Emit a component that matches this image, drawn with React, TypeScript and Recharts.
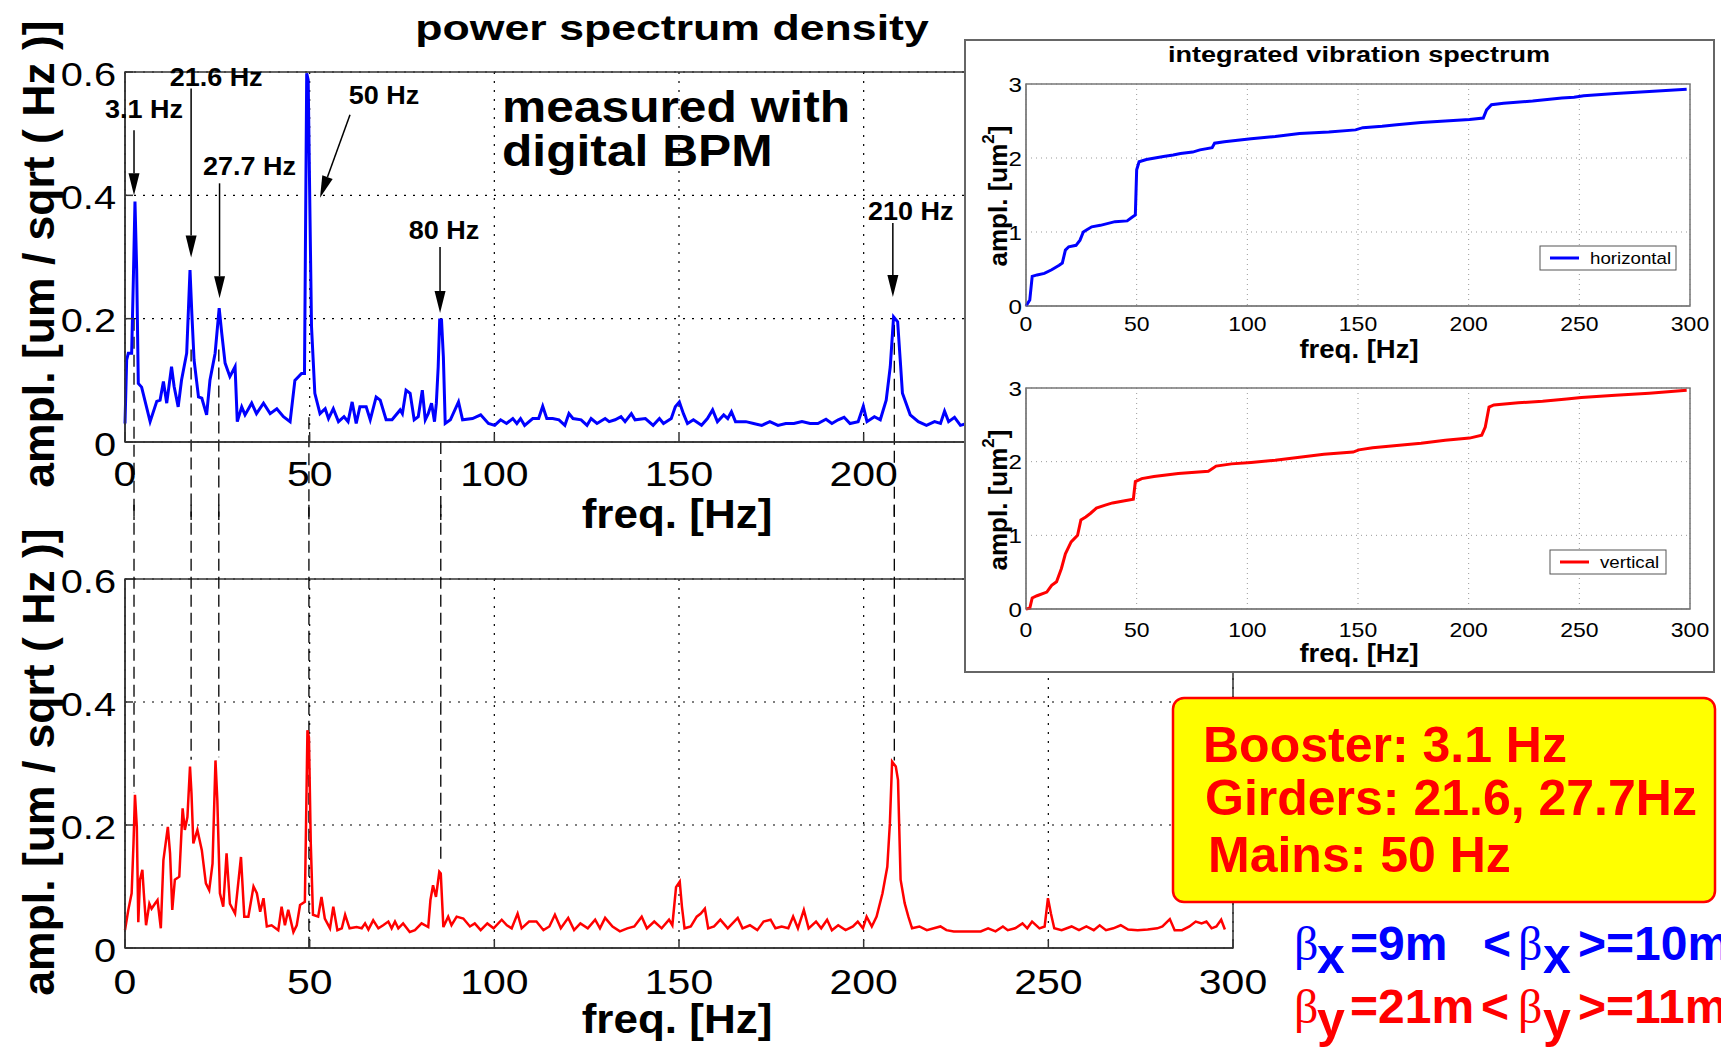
import {
  LineChart,
  Line,
  XAxis,
  YAxis,
  CartesianGrid,
  ReferenceLine,
  ReferenceDot,
  ReferenceArea,
} from "recharts";

const FONT = "'Liberation Sans', Arial, Helvetica, sans-serif";
const SERIF = "'Liberation Serif', 'DejaVu Serif', serif";

// top panel: horizontal PSD [um / sqrt(Hz)]
const hFreq = [
  0, 0.45, 0.9, 1.8, 2.26, 2.7, 3.16, 3.6, 4.5, 6.8,
  8.6, 9.5, 10.4, 11.3, 12.6, 13.3, 14.4, 15.3, 16.7, 17.6,
  18.1, 18.7, 19.9, 20.8, 22.1, 23.0, 24.4, 25.5, 26.2, 27.1,
  28.4, 29.8, 30.4, 31.6, 32.5, 34.3, 35.6, 37.5, 39.3, 41.1,
  42.9, 44.7, 46.0, 47.8, 48.6, 49.2, 49.6, 50.1, 50.5, 51.4,
  52.8, 54.2, 55.1, 56.4, 57.8, 59.3, 60.4, 61.5, 62.6, 63.6,
  65.3, 66.4, 68.0, 69.1, 70.7, 72.3, 74.5, 75.1, 76.1, 77.2,
  78.3, 79.4, 80.5, 81.3, 82.1, 83.0, 83.8, 84.3, 84.8, 85.2,
  85.7, 86.2, 86.7, 88.1, 90.3, 91.4, 94.1, 96.3, 98.4, 100.1,
  101.7, 103.3, 105.0, 106.1, 107.1, 108.2, 110.4, 112.0, 113.1, 114.2,
  115.8, 117.5, 119.1, 120.2, 121.3, 123.5, 125.1, 126.2, 127.8, 130.0,
  131.1, 132.7, 134.3, 135.4, 137.1, 138.1, 140.9, 143.0, 144.7, 145.8,
  147.9, 149.0, 150.1, 151.2, 152.3, 153.9, 156.1, 157.7, 159.1, 160.4,
  162.1, 163.2, 164.2, 165.3, 168.1, 170.2, 172.4, 174.6, 176.8, 178.9,
  181.1, 183.3, 185.5, 187.6, 189.8, 191.4, 193.1, 194.7, 196.3, 198.5,
  199.9, 200.9, 202.9, 204.5, 206.1, 207.2, 208.1, 209.2, 209.9, 210.5,
  212.6, 214.8, 217.0, 219.2, 220.8, 221.9, 223.0, 224.6, 226.2, 227.9,
];
const hAmp = [
  0.03, 0.133, 0.144, 0.144, 0.263, 0.39, 0.28, 0.095, 0.089, 0.033,
  0.066, 0.068, 0.098, 0.063, 0.122, 0.09, 0.057, 0.1, 0.144, 0.279,
  0.208, 0.133, 0.073, 0.071, 0.044, 0.1, 0.144, 0.217, 0.176, 0.128,
  0.106, 0.122, 0.033, 0.057, 0.044, 0.063, 0.046, 0.063, 0.046, 0.054,
  0.041, 0.033, 0.1, 0.111, 0.111, 0.598, 0.587, 0.36, 0.187, 0.079,
  0.046, 0.054, 0.038, 0.054, 0.033, 0.041, 0.033, 0.065, 0.03, 0.057,
  0.057, 0.036, 0.073, 0.068, 0.036, 0.036, 0.052, 0.046, 0.084, 0.079,
  0.036, 0.041, 0.084, 0.036, 0.046, 0.063, 0.033, 0.063, 0.122, 0.198,
  0.198, 0.138, 0.03, 0.036, 0.065, 0.036, 0.038, 0.044, 0.03, 0.027,
  0.036, 0.03, 0.038, 0.03, 0.038, 0.027, 0.038, 0.038, 0.058, 0.038,
  0.038, 0.036, 0.027, 0.046, 0.038, 0.036, 0.027, 0.038, 0.03, 0.038,
  0.033, 0.036, 0.041, 0.033, 0.046, 0.036, 0.038, 0.027, 0.038, 0.03,
  0.038, 0.057, 0.065, 0.046, 0.03, 0.036, 0.027, 0.038, 0.052, 0.033,
  0.044, 0.038, 0.049, 0.033, 0.033, 0.03, 0.027, 0.033, 0.027, 0.03,
  0.03, 0.033, 0.03, 0.03, 0.037, 0.03, 0.036, 0.04, 0.03, 0.033,
  0.058, 0.033, 0.041, 0.036, 0.068, 0.122, 0.203, 0.195, 0.133, 0.079,
  0.044, 0.033, 0.027, 0.033, 0.03, 0.05, 0.033, 0.04, 0.027, 0.03,
];

// bottom panel: vertical PSD [um / sqrt(Hz)]
const vFreq = [
  0, 0.9, 1.8, 2.3, 2.7, 3.2, 3.6, 4.06, 4.7, 5.1,
  5.7, 6.6, 7.2, 8.1, 8.8, 9.7, 10.4, 11.6, 12.2, 12.8,
  13.5, 14.7, 15.6, 16.2, 16.9, 17.6, 18.0, 18.5, 19.6, 20.8,
  21.9, 22.8, 23.7, 24.5, 25.0, 25.7, 26.6, 27.5, 28.4, 29.8,
  31.4, 32.3, 33.4, 34.8, 35.7, 36.6, 37.5, 38.4, 39.7, 41.5,
  42.4, 43.3, 44.2, 45.6, 46.5, 47.4, 48.7, 49.4, 49.8, 50.3,
  50.9, 52.3, 53.2, 54.1, 55.5, 56.4, 57.5, 58.7, 59.6, 60.8,
  62.7, 64.1, 65.0, 65.9, 67.2, 68.6, 69.9, 71.3, 72.2, 73.1,
  74.0, 75.3, 77.1, 78.5, 80.3, 82.1, 82.7, 83.4, 84.2, 85.1,
  85.5, 86.2, 87.5, 88.4, 89.8, 91.6, 93.4, 94.7, 96.3, 98.1,
  99.8, 102.0, 103.4, 104.7, 106.3, 107.4, 109.4, 111.4, 113.3, 114.9,
  116.4, 118.0, 120.0, 121.6, 123.3, 125.3, 127.3, 128.6, 130.0, 132.0,
  134.0, 136.0, 137.9, 139.9, 141.3, 143.3, 145.3, 147.3, 148.2, 149.2,
  150.2, 150.8, 151.5, 153.2, 154.8, 155.9, 157.0, 157.9, 159.5, 161.2,
  163.2, 165.9, 167.2, 169.2, 171.2, 172.9, 174.8, 176.1, 177.8, 179.6,
  180.9, 182.2, 183.8, 185.1, 187.1, 188.5, 190.1, 191.4, 193.1, 195.1,
  197.1, 198.4, 199.8, 200.8, 202.2, 203.5, 205.1, 206.4, 207.1, 207.7,
  208.7, 209.3, 210.0, 211.1, 212.1, 213.1, 215.1, 217.1, 219.0, 220.8,
  222.4, 224.4, 226.4, 229.0, 231.7, 233.7, 235.7, 237.7, 239.0, 241.0,
  243.0, 244.3, 245.6, 247.6, 249.0, 249.9, 250.7, 251.6, 253.6, 256.3,
  258.3, 260.3, 262.3, 263.9, 265.6, 267.6, 269.6, 271.6, 274.2, 276.9,
  279.5, 280.9, 282.9, 284.2, 286.2, 288.2, 289.9, 291.5, 292.8, 294.2,
  295.5, 296.8, 297.8,
];
const vAmp = [
  0.029, 0.062, 0.089, 0.17, 0.249, 0.197, 0.042, 0.111, 0.127, 0.089,
  0.037, 0.072, 0.064, 0.072, 0.078, 0.032, 0.143, 0.197, 0.154, 0.062,
  0.111, 0.116, 0.227, 0.192, 0.213, 0.295, 0.252, 0.17, 0.192, 0.159,
  0.105, 0.094, 0.137, 0.305, 0.24, 0.089, 0.067, 0.154, 0.072, 0.056,
  0.148, 0.051, 0.051, 0.1, 0.089, 0.059, 0.081, 0.035, 0.037, 0.029,
  0.067, 0.037, 0.062, 0.026, 0.037, 0.07, 0.075, 0.354, 0.343, 0.17,
  0.054, 0.051, 0.083, 0.048, 0.032, 0.067, 0.029, 0.032, 0.054, 0.032,
  0.034, 0.032, 0.04, 0.03, 0.045, 0.032, 0.037, 0.043, 0.032, 0.043,
  0.032, 0.04, 0.026, 0.029, 0.04, 0.034, 0.078, 0.102, 0.083, 0.124,
  0.121, 0.034, 0.051, 0.037, 0.051, 0.048, 0.035, 0.04, 0.029, 0.04,
  0.032, 0.046, 0.037, 0.032, 0.056, 0.032, 0.043, 0.043, 0.029, 0.035,
  0.054, 0.032, 0.049, 0.029, 0.04, 0.032, 0.046, 0.032, 0.049, 0.035,
  0.027, 0.032, 0.035, 0.051, 0.032, 0.043, 0.032, 0.046, 0.037, 0.099,
  0.108, 0.067, 0.032, 0.035, 0.051, 0.056, 0.064, 0.032, 0.035, 0.046,
  0.032, 0.049, 0.032, 0.037, 0.029, 0.043, 0.046, 0.032, 0.035, 0.032,
  0.051, 0.032, 0.062, 0.032, 0.043, 0.032, 0.046, 0.029, 0.037, 0.029,
  0.035, 0.043, 0.032, 0.051, 0.035, 0.051, 0.089, 0.132, 0.203, 0.303,
  0.295, 0.273, 0.111, 0.073, 0.051, 0.032, 0.035, 0.029, 0.032, 0.035,
  0.029, 0.027, 0.027, 0.027, 0.027, 0.032, 0.027, 0.035, 0.029, 0.032,
  0.04, 0.032, 0.043, 0.032, 0.035, 0.081, 0.056, 0.032, 0.029, 0.035,
  0.029, 0.035, 0.029, 0.037, 0.029, 0.032, 0.037, 0.03, 0.029, 0.03,
  0.032, 0.035, 0.047, 0.029, 0.029, 0.035, 0.043, 0.04, 0.043, 0.032,
  0.035, 0.046, 0.03,
];

// inset: integrated vibration spectrum [um^2]
const intHFreq = [
  0, 1.7, 2.8, 5.0, 8.3, 11.6, 15.0, 16.4, 17.8, 19.3,
  22.6, 24.4, 25.9, 27.5, 29.7, 33.6, 40.2, 45.7, 47.9, 49.4,
  50.0, 51.1, 54.4, 62.1, 66.5, 69.8, 75.3, 78.6, 84.1, 85.2,
  89.6, 101.7, 112.6, 123.6, 136.8, 148.9, 152.2, 160.9, 167.5, 178.5,
  189.4, 200.4, 206.6, 208.1, 210.3, 215.8, 228.9, 242.1, 247.6, 252.0,
  266.3, 281.6, 298.5,
];
const intHAmp = [
  0, 0.08, 0.4, 0.42, 0.44, 0.49, 0.55, 0.58, 0.756, 0.8,
  0.82, 0.89, 1.0, 1.03, 1.07, 1.09, 1.14, 1.15, 1.2, 1.23,
  1.84, 1.95, 1.98, 2.02, 2.04, 2.06, 2.08, 2.11, 2.14, 2.2,
  2.22, 2.26, 2.29, 2.33, 2.35, 2.38, 2.41, 2.43, 2.45, 2.48,
  2.5, 2.52, 2.54, 2.65, 2.72, 2.74, 2.77, 2.81, 2.82, 2.84,
  2.87, 2.9, 2.93,
];
const intVFreq = [
  0, 1.7, 2.8, 5.0, 9.4, 11.6, 13.8, 16.0, 17.8, 20.4,
  23.3, 24.8, 27.0, 29.2, 31.8, 35.8, 39.1, 44.6, 48.5, 49.4,
  52.3, 57.8, 68.8, 82.4, 85.9, 92.9, 101.7, 112.6, 123.6, 134.6,
  147.8, 150.4, 156.6, 167.5, 178.5, 189.4, 200.4, 205.9, 207.5, 209.2,
  211.4, 222.4, 233.4, 244.3, 250.9, 266.3, 281.6, 298.5,
];
const intVAmp = [
  0, 0.01, 0.15, 0.18, 0.23, 0.32, 0.37, 0.55, 0.75, 0.91,
  1.0, 1.21, 1.25, 1.3, 1.37, 1.41, 1.44, 1.47, 1.49, 1.73,
  1.77, 1.8, 1.84, 1.87, 1.94, 1.97, 1.99, 2.02, 2.06, 2.1,
  2.13, 2.16, 2.19, 2.22, 2.25, 2.29, 2.32, 2.36, 2.47, 2.74,
  2.77, 2.8, 2.82, 2.85, 2.87, 2.9, 2.93, 2.97,
];

const freqTicks = [0, 50, 100, 150, 200, 250, 300];
// the right part of the top panel sits under the inset
const topFreqTicks = [0, 50, 100, 150, 200];
const psdTicks = [0, 0.2, 0.4, 0.6];
const intTicks = [0, 1, 2, 3];

// labelled peaks on the top panel (arrow tip in data units)
const peakLabels = ["3.1 Hz", "21.6 Hz", "27.7 Hz", "50 Hz", "80 Hz", "210 Hz"];
const peakFreq = [2.44, 17.9, 25.6, 52.8, 85.3, 207.9];
const peakAmp = [0.4, 0.299, 0.233, 0.396, 0.209, 0.235];
// arrow tail / label centre, px offsets from the tip
const peakTail = [[0, -65], [0, -169], [0, -115], [30, -83], [0, -66], [0, -74]];
const peakText = [[10, -86], [25, -181], [30, -132], [64, -103], [4, -83], [18, -86]];

// dashed links between matching peaks of the two panels
const linkFreq = [2.44, 17.9, 25.4, 49.8, 85.5, 208.3];
const linkTopFrom = [0.2, 0.15, 0.15, 0.04, 0, 0.19];
const linkBottomTo = [0.252, 0.306, 0.31, 0, 0.143, 0.305];

const zip = (xs: number[], ys: number[]) => xs.map((f, i) => ({ f, v: ys[i] }));
const topData = zip(hFreq, hAmp);
const bottomData = zip(vFreq, vAmp);
const intHData = zip(intHFreq, intHAmp);
const intVData = zip(intVFreq, intVAmp);

const tickText = (size: number, sx: number, anchor: string, dy: string) => (p: any) => (
  <g transform={`translate(${p.x},${p.y}) scale(${sx},1)`}>
    <text textAnchor={anchor} dy={dy} fontSize={size} fontFamily={FONT} fill="#000">
      {p.payload.value}
    </text>
  </g>
);

function Arrow({ cx, cy, tail, label, text }: any) {
  const [dx, dy] = tail;
  const len = Math.hypot(dx, dy);
  const ux = dx / len;
  const uy = dy / len;
  const bx = cx + ux * 22;
  const by = cy + uy * 22;
  const nx = -uy * 5.5;
  const ny = ux * 5.5;
  return (
    <g>
      <line x1={bx} y1={by} x2={cx + dx} y2={cy + dy} stroke="#000" strokeWidth={1.5} />
      <polygon points={`${cx},${cy} ${bx + nx},${by + ny} ${bx - nx},${by - ny}`} fill="#000" />
      <text
        transform={`translate(${cx + label[0]},${cy + label[1]}) scale(1.08,1)`}
        textAnchor="middle"
        dy="0.36em"
        fontSize={25}
        fontWeight="bold"
        fontFamily={FONT}
        fill="#000"
      >
        {text}
      </text>
    </g>
  );
}

function PsdPanel({ data, color, lineWidth, ticks, top, height, marginTop, xAxisHeight, xTickMargin, children }: any) {
  return (
    <div style={{ position: "absolute", left: 0, top }}>
      <LineChart width={1290} height={height} data={data} margin={{ top: marginTop, right: 57, bottom: 0, left: 0 }}>
        <CartesianGrid stroke="#000" strokeDasharray="2 7" strokeWidth={1.2} />
        <XAxis
          dataKey="f"
          type="number"
          domain={[0, 300]}
          ticks={ticks}
          interval={0}
          height={xAxisHeight}
          stroke="#333"
          strokeWidth={1.5}
          tickSize={-8}
          tickMargin={xTickMargin}
          tick={tickText(35, 1.17, "middle", "0.71em")}
        />
        <YAxis
          type="number"
          domain={[0, 0.6]}
          ticks={psdTicks}
          interval={0}
          width={125}
          stroke="#333"
          strokeWidth={1.5}
          tickSize={-8}
          tickMargin={17}
          tick={tickText(34, 1.17, "end", "0.4em")}
        />
        <ReferenceArea x1={0} x2={300} y1={0} y2={0.6} fill="none" stroke="#333" strokeWidth={1.5} ifOverflow="visible" />
        {children}
        <Line type="linear" dataKey="v" stroke={color} strokeWidth={lineWidth} dot={false} activeDot={false} isAnimationActive={false} />
      </LineChart>
    </div>
  );
}

function IntPanel({ data, color, top, height, marginTop, xAxisHeight, xTickMargin }: any) {
  return (
    <div style={{ position: "absolute", left: 0, top }}>
      <LineChart width={751} height={height} data={data} margin={{ top: marginTop, right: 25, bottom: 0, left: 0 }}>
        <CartesianGrid stroke="#999" strokeDasharray="1 4" />
        <XAxis
          dataKey="f"
          type="number"
          domain={[0, 300]}
          ticks={freqTicks}
          interval={0}
          height={xAxisHeight}
          stroke="#777"
          tickLine={false}
          tickSize={0}
          tickMargin={xTickMargin}
          tick={tickText(20, 1.15, "middle", "0.71em")}
        />
        <YAxis
          type="number"
          domain={[0, 3]}
          ticks={intTicks}
          interval={0}
          width={62}
          stroke="#777"
          tickLine={false}
          tickSize={0}
          tickMargin={4}
          tick={tickText(21, 1.15, "end", "0.36em")}
        />
        <ReferenceArea x1={0} x2={300} y1={0} y2={3} fill="none" stroke="#777" strokeWidth={1.5} ifOverflow="visible" />
        <Line type="linear" dataKey="v" stroke={color} strokeWidth={3} dot={false} activeDot={false} isAnimationActive={false} />
      </LineChart>
    </div>
  );
}

function Legend({ x, y, w, color, text }: any) {
  return (
    <g>
      <rect x={x} y={y} width={w} height={24} fill="#fff" stroke="#555" strokeWidth={1} />
      <line x1={x + 10} y1={y + 12} x2={x + 39} y2={y + 12} stroke={color} strokeWidth={3} />
      <text transform={`translate(${x + 50},${y + 18}) scale(1.1,1)`} fontSize={17} fontFamily={FONT} fill="#000">
        {text}
      </text>
    </g>
  );
}

export default function App() {
  return (
    <div
      style={{
        position: "absolute",
        left: 0,
        top: 0,
        width: 1721,
        height: 1048,
        background: "#fff",
        overflow: "hidden",
        fontFamily: FONT,
      }}
    >
      <PsdPanel
        data={topData}
        color="#0000ff"
        lineWidth={3}
        ticks={topFreqTicks}
        top={0}
        height={520}
        marginTop={72}
        xAxisHeight={78}
        xTickMargin={27.5}
      >
        {linkFreq.map((f, i) => (
          <ReferenceLine
            key={`lt${i}`}
            segment={[{ x: f, y: linkTopFrom[i] }, { x: f, y: -0.14 }]}
            stroke="#000"
            strokeWidth={1.3}
            strokeDasharray="12 6"
            ifOverflow="visible"
          />
        ))}
        {peakLabels.map((t, i) => (
          <ReferenceDot
            key={`pk${i}`}
            x={peakFreq[i]}
            y={peakAmp[i]}
            r={0}
            ifOverflow="visible"
            shape={(p: any) => <Arrow cx={p.cx} cy={p.cy} tail={peakTail[i]} label={peakText[i]} text={t} />}
          />
        ))}
      </PsdPanel>

      <PsdPanel
        data={bottomData}
        color="#ff0000"
        lineWidth={2.5}
        ticks={freqTicks}
        top={500}
        height={548}
        marginTop={79}
        xAxisHeight={100}
        xTickMargin={29}
      >
        {linkFreq.map((f, i) => (
          <ReferenceLine
            key={`lb${i}`}
            segment={[{ x: f, y: 0.75 }, { x: f, y: linkBottomTo[i] }]}
            stroke="#000"
            strokeWidth={1.3}
            strokeDasharray="12 6"
            ifOverflow="visible"
          />
        ))}
      </PsdPanel>

      <svg width={1721} height={1048} style={{ position: "absolute", left: 0, top: 0, pointerEvents: "none" }}>
        <text transform="translate(672,40) scale(1.24,1)" textAnchor="middle" fontSize={36} fontWeight="bold" fill="#000">
          power spectrum density
        </text>
        <text transform="translate(502,122) scale(1.13,1)" fontSize={44} fontWeight="bold" fill="#000">
          measured with
        </text>
        <text transform="translate(502,166) scale(1.13,1)" fontSize={44} fontWeight="bold" fill="#000">
          digital BPM
        </text>
        <text transform="translate(38,254) rotate(-90)" textAnchor="middle" dominantBaseline="central" fontSize={44.5} fontWeight="bold" fill="#000">
          ampl. [um / sqrt ( Hz )]
        </text>
        <text transform="translate(38,762) rotate(-90)" textAnchor="middle" dominantBaseline="central" fontSize={44.5} fontWeight="bold" fill="#000">
          ampl. [um / sqrt ( Hz )]
        </text>
        <text transform="translate(677,528) scale(1.1,1)" textAnchor="middle" fontSize={40} fontWeight="bold" fill="#000">
          freq. [Hz]
        </text>
        <text transform="translate(677,1033) scale(1.1,1)" textAnchor="middle" fontSize={40} fontWeight="bold" fill="#000">
          freq. [Hz]
        </text>
      </svg>

      <div style={{ position: "absolute", left: 964, top: 39, width: 751, height: 634, background: "#fff" }}>
        <IntPanel data={intHData} color="#0000ff" top={0} height={330} marginTop={45} xAxisHeight={63} xTickMargin={11} />
        <IntPanel data={intVData} color="#ff0000" top={330} height={304} marginTop={19} xAxisHeight={64} xTickMargin={14} />
        <svg width={751} height={634} style={{ position: "absolute", left: 0, top: 0, pointerEvents: "none" }}>
          <rect x={1} y={1} width={749} height={632} fill="none" stroke="#666" strokeWidth={2} />
          <text transform="translate(395,23) scale(1.26,1)" textAnchor="middle" fontSize={21.5} fontWeight="bold" fill="#000">
            integrated vibration spectrum
          </text>
          <text transform="translate(34,157) rotate(-90)" textAnchor="middle" dominantBaseline="central" fontSize={26} fontWeight="bold" fill="#000">
            ampl. [um<tspan dy={-10} fontSize={17}>2</tspan>
            <tspan dy={10}>]</tspan>
          </text>
          <text transform="translate(34,461) rotate(-90)" textAnchor="middle" dominantBaseline="central" fontSize={26} fontWeight="bold" fill="#000">
            ampl. [um<tspan dy={-10} fontSize={17}>2</tspan>
            <tspan dy={10}>]</tspan>
          </text>
          <text transform="translate(395,319) scale(1.1,1)" textAnchor="middle" fontSize={25} fontWeight="bold" fill="#000">
            freq. [Hz]
          </text>
          <text transform="translate(395,623) scale(1.1,1)" textAnchor="middle" fontSize={25} fontWeight="bold" fill="#000">
            freq. [Hz]
          </text>
          <Legend x={576} y={207} w={136} color="#0000ff" text="horizontal" />
          <Legend x={586} y={511} w={116} color="#ff0000" text="vertical" />
        </svg>
      </div>

      <svg width={1721} height={1048} style={{ position: "absolute", left: 0, top: 0, pointerEvents: "none" }}>
        <rect x={1173} y={698} width={542} height={204} rx={11} fill="#ffff00" stroke="#ff0000" strokeWidth={2.5} />
        <g fontFamily={FONT} fontWeight="bold" fill="#ff0000" fontSize={50}>
          <text x={1203} y={762}>Booster: 3.1 Hz</text>
          <text x={1205} y={815}>Girders: 21.6, 27.7Hz</text>
          <text x={1208} y={872}>Mains: 50 Hz</text>
        </g>
        <g fill="#0000ff" fontFamily={FONT} fontWeight="bold">
          <text x={1294} y={960} fontFamily={SERIF} fontWeight="normal" fontSize={48}>β</text>
          <text x={1317} y={973} fontSize={50}>x</text>
          <text x={1350} y={960} fontSize={48}>=9m</text>
          <text x={1483} y={960} fontSize={48}>{"<"}</text>
          <text x={1518} y={960} fontFamily={SERIF} fontWeight="normal" fontSize={48}>β</text>
          <text x={1543} y={973} fontSize={50}>x</text>
          <text x={1578} y={960} fontSize={48}>{">=10m"}</text>
        </g>
        <g fill="#ff0000" fontFamily={FONT} fontWeight="bold">
          <text x={1294} y={1023} fontFamily={SERIF} fontWeight="normal" fontSize={48}>β</text>
          <text x={1317} y={1037} fontSize={50}>y</text>
          <text x={1350} y={1023} fontSize={48}>=21m</text>
          <text x={1481} y={1023} fontSize={48}>{"<"}</text>
          <text x={1518} y={1023} fontFamily={SERIF} fontWeight="normal" fontSize={48}>β</text>
          <text x={1543} y={1037} fontSize={50}>y</text>
          <text x={1578} y={1023} fontSize={48}>{">=11m"}</text>
        </g>
      </svg>
    </div>
  );
}
